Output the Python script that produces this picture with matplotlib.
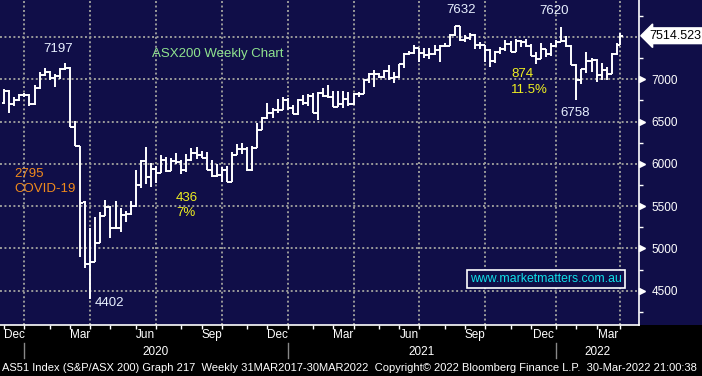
import matplotlib
matplotlib.use("Agg")
import matplotlib.pyplot as plt
import matplotlib.dates as mdates
import matplotlib.transforms as mtrans
from matplotlib.patches import Rectangle
import numpy as np
import pandas as pd

# weekly bars (week ending Friday, last bar is 30 Mar 2022)
dates = list(pd.date_range("2019-11-29", "2022-03-25", freq="W-FRI")) + [pd.Timestamp("2022-03-30")]

opens = [6720, 6860, 6710, 6750, 6815,
         6820, 6705, 6900, 7045, 7090, 7017, 7040, 7125, 7139, 6441, 6216, 5546, 4817,
         4842, 5067, 5387, 5487, 5242, 5245, 5391, 5405, 5497, 5755, 6037, 5847, 5942,
         5898, 6040, 5920, 6034, 6024, 5928, 6045, 6126, 6105, 6073, 5925, 5859, 5870,
         5930, 5791, 6102, 6177, 6170, 5927, 6190, 6404, 6539, 6601, 6634, 6642, 6756,
         6664, 6587, 6758, 6715, 6800, 6607, 6840, 6805, 6793, 6673, 6711, 6767, 6708,
         6824, 6829, 6995, 7063, 7061, 7025, 7095, 7014, 7030, 7179, 7296, 7312, 7369,
         7308, 7282, 7298, 7351, 7394, 7393, 7523, 7628, 7460, 7488, 7522, 7406, 7403,
         7342, 7216, 7320, 7362, 7415, 7324, 7457, 7443, 7397, 7279, 7241, 7354, 7293,
         7388, 7444, 7453, 7393, 7174, 6988, 7121, 7217, 7225, 7049, 7111, 7064, 7296,
         7406]
highs = [6882, 6870, 6790, 6830, 6840,
         6830, 6935, 7090, 7130, 7095, 7060, 7130, 7197, 7145, 6511, 6216, 5560, 5239,
         5376, 5435, 5573, 5502, 5565, 5475, 5440, 5560, 5926, 6046, 6204, 6007, 5970,
         6105, 6085, 6070, 6128, 6040, 6117, 6192, 6197, 6150, 6144, 6046, 6000, 5967,
         5980, 6144, 6235, 6243, 6204, 6212, 6480, 6558, 6716, 6657, 6764, 6790, 6780,
         6700, 6764, 6820, 6830, 6834, 6853, 6893, 6933, 6862, 6862, 6862, 6853, 6841,
         6853, 7000, 7071, 7110, 7075, 7110, 7169, 7090, 7181, 7307, 7338, 7405, 7370,
         7370, 7370, 7400, 7400, 7433, 7535, 7632, 7632, 7524, 7551, 7540, 7440, 7405,
         7360, 7340, 7380, 7465, 7450, 7473, 7470, 7475, 7420, 7326, 7433, 7360, 7426,
         7465, 7620, 7512, 7410, 7175, 7118, 7326, 7248, 7240, 7189, 7140, 7307, 7426,
         7544]
lows = [6710, 6598, 6690, 6740, 6790,
        6690, 6700, 6890, 7035, 6990, 6905, 7000, 7110, 6440, 6210, 4896, 4766, 4402,
        4842, 5060, 5380, 5121, 5230, 5192, 5317, 5400, 5494, 5720, 5762, 5730, 5778,
        5898, 5908, 5910, 6000, 5880, 5900, 6030, 6060, 6070, 5925, 5850, 5850, 5790,
        5790, 5790, 6100, 6117, 5920, 5920, 6190, 6400, 6527, 6540, 6600, 6640, 6640,
        6587, 6580, 6700, 6690, 6600, 6519, 6795, 6775, 6669, 6669, 6657, 6684, 6700,
        6795, 6826, 6953, 6913, 7020, 7020, 6990, 6960, 7012, 7130, 7290, 7300, 7208,
        7248, 7236, 7290, 7208, 7380, 7390, 7515, 7457, 7440, 7470, 7355, 7355, 7208,
        7149, 7190, 7300, 7340, 7320, 7319, 7385, 7385, 7275, 7177, 7240, 7267, 7280,
        7385, 7440, 7385, 7169, 6758, 6944, 7071, 7090, 6972, 6990, 6990, 7060, 7290,
        7400]
closes = [6860, 6710, 6750, 6815, 6820,
          6705, 6900, 7045, 7090, 7017, 7040, 7125, 7139, 6441, 6216, 5539, 4817, 4842,
          5067, 5387, 5487, 5242, 5245, 5391, 5405, 5497, 5755, 6037, 5847, 5942, 5898,
          6040, 5920, 6034, 6024, 5928, 6045, 6126, 6105, 6073, 5925, 5859, 5870, 5930,
          5791, 6102, 6177, 6170, 5927, 6190, 6404, 6539, 6601, 6634, 6642, 6756, 6664,
          6587, 6758, 6715, 6800, 6607, 6840, 6805, 6793, 6673, 6711, 6767, 6708, 6824,
          6829, 6995, 7063, 7061, 7025, 7095, 7014, 7030, 7179, 7296, 7312, 7369, 7308,
          7282, 7298, 7351, 7394, 7393, 7523, 7628, 7460, 7488, 7522, 7406, 7403, 7342,
          7216, 7320, 7362, 7415, 7324, 7457, 7443, 7397, 7279, 7241, 7354, 7293, 7388,
          7444, 7453, 7393, 7174, 6988, 7121, 7217, 7225, 7049, 7111, 7064, 7296, 7406,
          7514.523]

right_ticks = [4500, 5000, 5500, 6000, 6500, 7000]
grid_levels = [4500, 5000, 5500, 6000, 6500, 7000, 7500]
last_value = 7514.523

navy = "#100E48"
plt.rcParams["font.family"] = ["Liberation Sans", "DejaVu Sans"]

fig = plt.figure(figsize=(7.02, 3.76), dpi=100, facecolor="black")
fig.patches.append(Rectangle((0, 325.3 / 376 * 0 + (376 - 325.3) / 376), 1, 325.3 / 376,
                             transform=fig.transFigure, facecolor=navy, zorder=-10))
ax = fig.add_axes([0, (376 - 325.3) / 376, 639 / 702, 325.3 / 376])
ax.set_facecolor(navy)

x = mdates.date2num(dates)
half = 3.6
ax.vlines(x, lows, highs, color="white", lw=1.4, zorder=3)
ax.hlines(opens, x - half, x, color="white", lw=1.4, zorder=3)
ax.hlines(closes, x, x + half, color="white", lw=1.4, zorder=3)

base = mdates.date2num(pd.Timestamp("2020-01-01"))
ax.set_xlim(base - 38.7, base + 844.6)
ax.set_ylim(4092, 7937)

# month-end bars -> ticks, quarter ends -> grid
s = pd.Series(x, index=pd.DatetimeIndex(dates))
month_end = s.groupby([s.index.year, s.index.month]).max()
ax.set_xticks(month_end.values)
ax.set_xticklabels([])
ax.tick_params(axis="x", colors="white", length=3, width=1)
for (yr, mo), xv in month_end.items():
    if mo in (3, 6, 9, 12):
        ax.axvline(xv, color="#9a9a9a", lw=1.4, ls=(0, (1, 1.3)), zorder=1)
for lv in grid_levels:
    ax.axhline(lv, color="#9a9a9a", lw=1.4, ls=(0, (1, 1.3)), zorder=1)

bt = mtrans.blended_transform_factory(ax.transData, ax.transAxes)
names = {3: "Mar", 6: "Jun", 9: "Sep", 12: "Dec"}
keys = list(month_end.index)
for i, (yr, mo) in enumerate(keys):
    if mo in names:
        prev = month_end.iloc[i - 1] if i > 0 else month_end.iloc[0] - 20
        ax.text((prev + month_end.iloc[i]) / 2, -0.03, names[mo], transform=bt,
                color="white", fontsize=8.5, ha="center", va="center")

dec_ends = [month_end[(2019, 12)], month_end[(2020, 12)], month_end[(2021, 12)]]
for xv in dec_ends:
    ax.plot([xv, xv], [-0.054, -0.1], transform=bt, color="#888888", lw=1, clip_on=False)
year_pos = [(dec_ends[0] + dec_ends[1]) / 2, (dec_ends[1] + dec_ends[2]) / 2,
            (dec_ends[2] + ax.get_xlim()[1]) / 2]
for xv, lab in zip(year_pos, ["2020", "2021", "2022"]):
    ax.text(xv, -0.082, lab, transform=bt, color="white", fontsize=8.5, ha="center", va="center")

# right axis
ax.yaxis.tick_right()
ax.set_yticks(right_ticks)
ax.set_yticklabels([str(v) for v in right_ticks])
ax.set_yticks(np.arange(4250, 7900, 500), minor=True)
ax.tick_params(axis="y", which="major", length=0, pad=9, labelsize=8.5, labelcolor="white")
ax.tick_params(axis="y", which="minor", length=3, width=1, color="white", direction="out")
rt = mtrans.blended_transform_factory(ax.transAxes, ax.transData)
ax.plot([1.0047] * len(right_ticks), right_ticks, ls="none", marker=">", ms=4.5,
        color="white", transform=rt, clip_on=False)
ax.text(1.016, last_value, "7514.523", transform=rt, color="black", fontsize=9,
        ha="left", va="center",
        bbox=dict(boxstyle="larrow,pad=0.15", fc="white", ec="white"))

for side in ["top", "left"]:
    ax.spines[side].set_visible(False)
ax.spines["right"].set_color("white")
ax.spines["bottom"].set_color("white")
ax.spines["right"].set_linewidth(1.2)
ax.spines["bottom"].set_linewidth(1.2)

# annotations
ta = ax.transAxes
W, H = 639.0, 325.3
def put(px, py, txt, col, ha="left"):
    ax.text(px / W, 1 - py / H, txt, transform=ta, color=col, fontsize=9.5, ha=ha, va="center")

put(58, 49, "7197", "#E8F0FF", "center")
put(152, 54, "ASX200 Weekly Chart", "#8FE38F")
put(14, 174, "2795", "#F08A1C")
put(14, 189, "COVID-19", "#F08A1C")
put(95, 303, "4402", "#E8F0FF")
put(176, 198, "436", "#F0F020")
put(176, 213, "7%", "#F0F020")
put(461, 10, "7632", "#E8F0FF", "center")
put(554, 11, "7620", "#E8F0FF", "center")
put(511, 74, "874", "#F0F020")
put(511, 90, "11.5%", "#F0F020")
put(560, 113, "6758", "#E8F0FF")
ax.text(546 / W, 1 - 279 / H, "www.marketmatters.com.au", transform=ta, color="#10E0E8",
        fontsize=8.8, ha="center", va="center",
        bbox=dict(boxstyle="square,pad=0.25", fc=navy, ec="white", lw=1.2))

fig.text(0.003, (376 - 368) / 376,
         "AS51 Index (S&P/ASX 200) Graph 217  Weekly 31MAR2017-30MAR2022  Copyright\u00a9 2022 Bloomberg Finance L.P.  30-Mar-2022 21:00:38",
         color="white", fontsize=8, ha="left", va="center")

fig.savefig("out.png", dpi=100, facecolor="black")
